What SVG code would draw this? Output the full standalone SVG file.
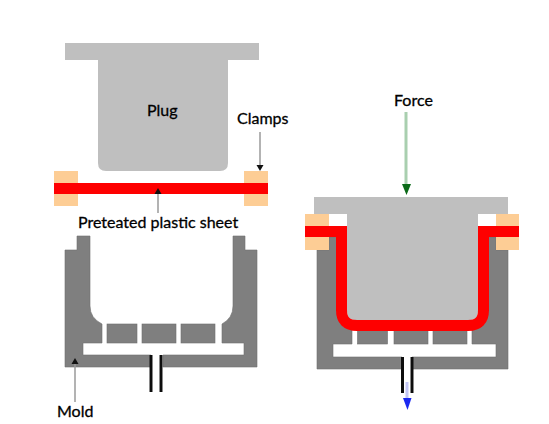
<svg xmlns="http://www.w3.org/2000/svg" width="549" height="424" viewBox="0 0 549 424">
<style>
.plug{fill:#bfbfbf}.clamp{fill:#fdcd95}.sheet{fill:#fe0000}.mold{fill:#7f7f7f;stroke:#6e6e6e;stroke-width:.6}.gap{fill:#fff}
.pipe{stroke:#111;stroke-width:3;fill:none}
.lead{stroke:#9a9a9a;stroke-width:1.5;fill:none}.head{fill:#111}
text{font-family:Lato,"Open Sans",sans-serif;font-size:16px;fill:#000;stroke:#000;stroke-width:.3}
</style>
<defs><filter id="b" x="-5%" y="-5%" width="110%" height="110%"><feGaussianBlur stdDeviation="0.5"/></filter></defs>
<rect width="549" height="424" fill="#fff"/>
<g filter="url(#b)">
<g id="plug-left"><path class="plug" d="M65 43H259V60H228V163Q228 171 220 171H106Q98 171 98 163V60H65Z"/></g>
<g id="clamps-left"><rect class="clamp" x="54" y="171" width="24" height="35"/><rect class="clamp" x="244" y="171" width="24" height="35"/></g>
<g id="sheet-left"><rect class="sheet" x="54" y="183" width="214" height="11"/></g>
<g id="mold-left">
<path class="mold" d="M65 367V250H77V236H90V306Q90 318 102 324V343H83V355H151V367ZM163 367V355H244V343H222V324Q233 318 233 306V236H245V250H257V367Z"/>
<rect class="mold" x="107" y="324" width="30" height="19"/><rect class="mold" x="142" y="324" width="34" height="19"/><rect class="mold" x="181" y="324" width="34" height="19"/>
<path class="pipe" d="M151 355V392M161 355V392"/>
</g>
<g id="plug-right"><path class="plug" d="M314 197H508V214H478V312Q478 320 470 320H355Q347 320 347 312V214H314Z"/></g>
<g id="mold-right">
<path class="mold" d="M317 369V250H329V237H343V326H352V344H333V357H402V369ZM412 369V357H496V344H472V326H482V237H496V250H508V369Z"/>
<rect class="mold" x="357.500" y="328" width="30" height="16"/><rect class="mold" x="394" y="328" width="34" height="16"/><rect class="mold" x="433" y="328" width="34" height="16"/>
<path class="pipe" d="M402.500 357V393M412 357V393"/>
</g>
<g id="clamps-right"><rect class="clamp" x="305" y="214" width="24" height="12"/><rect class="clamp" x="305" y="237" width="24" height="13"/><rect class="clamp" x="496" y="214" width="23" height="12"/><rect class="clamp" x="496" y="237" width="23" height="13"/></g>
<g id="sheet-right"><path fill="none" stroke="#fe0000" stroke-width="11" d="M305 231.500H341.500V310Q341.500 325.500 357 325.500H468Q483.500 325.500 483.500 310V231.500H519"/></g>
</g>
<g id="connectors">
<path class="lead" d="M260 132V167"/><path class="head" d="M256.500 165H263.500L260 171Z"/>
<path class="lead" d="M158 194V213"/><path class="head" d="M154.500 194H161.500L158 188Z"/>
<path class="lead" d="M75 364V402"/><path class="head" d="M71.500 364H78.500L75 358Z"/>
<path d="M406 112V187" stroke="#a9cfaf" stroke-width="3" fill="none"/><path fill="#0b6a18" d="M402 184H411L406.500 195Z"/>
<path d="M407 382V402" stroke="#c3c6f5" stroke-width="3" fill="none"/><path fill="#1a28f0" d="M403 398H411.500L407.500 410Z"/>
</g>
<g id="labels">
<text x="147" y="116">Plug</text>
<text x="237" y="124">Clamps</text>
<text x="78" y="228">Preteated plastic sheet</text>
<text x="57" y="417">Mold</text>
<text x="394" y="106">Force</text>
</g>
</svg>
